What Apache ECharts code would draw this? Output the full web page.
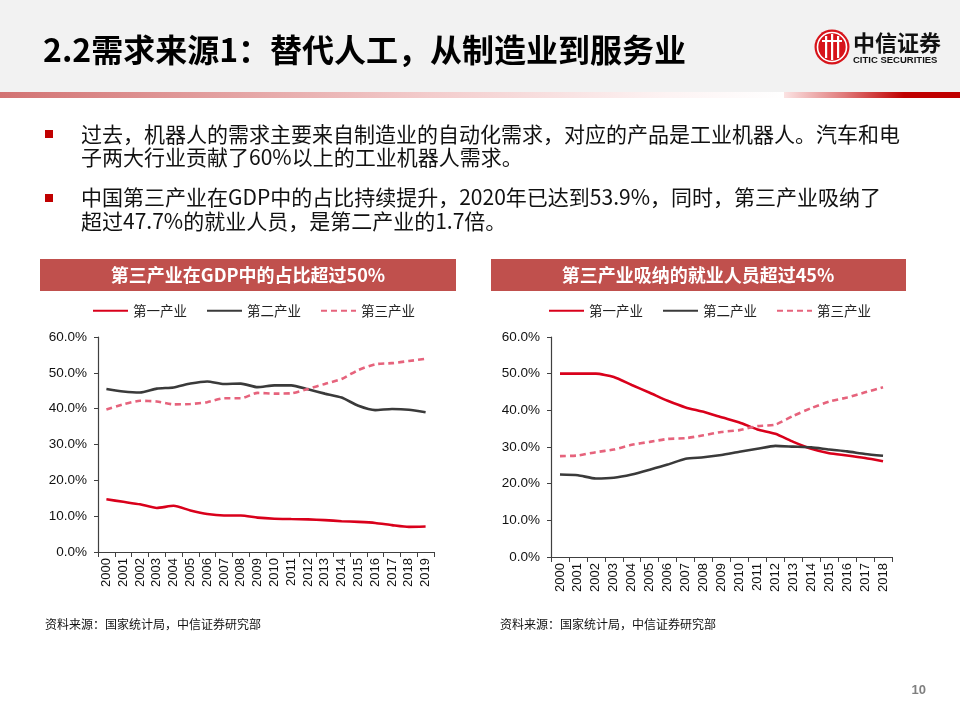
<!DOCTYPE html>
<html>
<head>
<meta charset="utf-8">
<script src="https://cdn.jsdelivr.net/npm/echarts@6/dist/echarts.min.js"></script>
<style>
html,body{margin:0;padding:0;background:#fff;}
#c{width:960px;height:720px;}
</style>
</head>
<body>
<div id="c"></div>
<script>
// ---- data ----
const pageTitle = '2.2需求来源1：替代人工，从制造业到服务业';
const bullet1 = ['过去，机器人的需求主要来自制造业的自动化需求，对应的产品是工业机器人。汽车和电', '子两大行业贡献了60%以上的工业机器人需求。'];
const bullet2 = ['中国第三产业在GDP中的占比持续提升，2020年已达到53.9%，同时，第三产业吸纳了', '超过47.7%的就业人员，是第二产业的1.7倍。'];
const chartTitle1 = '第三产业在GDP中的占比超过50%';
const chartTitle2 = '第三产业吸纳的就业人员超过45%';
const sourceText = '资料来源：国家统计局，中信证券研究部';
const pageNum = '10';
const seriesNames = ['第一产业', '第二产业', '第三产业'];

const years1 = ['2000','2001','2002','2003','2004','2005','2006','2007','2008','2009','2010','2011','2012','2013','2014','2015','2016','2017','2018','2019'];
const gdpPrimary   = [14.7,14.0,13.3,12.3,12.9,11.6,10.6,10.2,10.2,9.6,9.3,9.2,9.1,8.9,8.6,8.4,8.1,7.5,7.0,7.1];
const gdpSecondary = [45.5,44.8,44.5,45.6,45.9,47.0,47.6,46.9,47.0,46.0,46.5,46.5,45.4,44.2,43.1,40.8,39.6,39.9,39.7,39.0];
const gdpTertiary  = [39.8,41.2,42.2,42.0,41.2,41.3,41.8,42.9,42.9,44.4,44.2,44.3,45.5,46.9,48.3,50.8,52.4,52.7,53.3,53.9];

const years2 = ['2000','2001','2002','2003','2004','2005','2006','2007','2008','2009','2010','2011','2012','2013','2014','2015','2016','2017','2018'];
const empPrimary   = [50.0,50.0,50.0,49.1,46.9,44.8,42.6,40.8,39.6,38.1,36.7,34.8,33.6,31.4,29.5,28.3,27.7,27.0,26.1];
const empSecondary = [22.5,22.3,21.4,21.6,22.5,23.8,25.2,26.8,27.2,27.8,28.7,29.5,30.3,30.1,29.9,29.3,28.8,28.1,27.6];
const empTertiary  = [27.5,27.7,28.6,29.3,30.6,31.4,32.2,32.4,33.2,34.1,34.6,35.7,36.1,38.5,40.6,42.4,43.5,44.9,46.3];

const yMin = 0, yMax = 60, yStep = 10;

// ---- styles ----
const CJK = '"Noto Sans CJK SC", "Liberation Sans", sans-serif';
const LAT = '"Liberation Sans", "Noto Sans CJK SC", sans-serif';
const RED = '#d9001b', BLACK = '#3a3a3a', PINK = '#e6637c', BAR = '#c0504d';

const chart = echarts.init(document.getElementById('c'), null, {renderer: 'canvas'});

function axisPair(gridIndex, cats) {
  return {
    x: {
      type: 'category', gridIndex: gridIndex, data: cats, boundaryGap: true,
      axisLine: {lineStyle: {color: '#404040', width: 1.2}},
      axisTick: {show: true, length: 5, inside: false, lineStyle: {color: '#404040'}},
      axisLabel: {rotate: 90, fontSize: 13, color: '#111', fontFamily: LAT, margin: 6, interval: 0}
    },
    y: {
      type: 'value', gridIndex: gridIndex, min: yMin, max: yMax, interval: yStep,
      axisLine: {show: true, lineStyle: {color: '#404040', width: 1.2}},
      axisTick: {show: true, length: 4, lineStyle: {color: '#404040'}},
      splitLine: {show: false},
      axisLabel: {fontSize: 13.5, color: '#111', fontFamily: LAT, margin: 11,
        formatter: v => v.toFixed(1) + '%'}
    }
  };
}
const a1 = axisPair(0, years1), a2 = axisPair(1, years2);

function mk(name, data, idx, color, dashed) {
  return {
    name: name, type: 'line', data: data, xAxisIndex: idx, yAxisIndex: idx,
    symbol: 'none', smooth: 0.2, silent: true,
    lineStyle: {color: color, width: 2.6, type: dashed ? [6, 4] : 'solid'},
    itemStyle: {color: color}
  };
}

const legendBase = {
  data: seriesNames, itemWidth: 35, itemHeight: 12, itemGap: 19,
  itemStyle: {opacity: 0},
  textStyle: {fontSize: 13.5, color: '#222', fontFamily: CJK}, top: 299
};

const graphics = [
  // header background
  {type: 'rect', shape: {x: 0, y: 0, width: 960, height: 92}, style: {fill: '#f2f2f2'}, silent: true},
  {type: 'rect', shape: {x: 0, y: 92, width: 784, height: 6}, silent: true,
    style: {fill: new echarts.graphic.LinearGradient(0, 0, 1, 0, [
      {offset: 0, color: '#d27272'}, {offset: 0.55, color: '#f3cccc'}, {offset: 0.85, color: '#fdf3f3'}, {offset: 1, color: '#ffffff'}])}},
  {type: 'rect', shape: {x: 784, y: 92, width: 120, height: 6}, silent: true,
    style: {fill: new echarts.graphic.LinearGradient(0, 0, 1, 0, [
      {offset: 0, color: '#fbe3e3'}, {offset: 0.5, color: '#e07a7a'}, {offset: 1, color: '#c00000'}])}},
  {type: 'rect', shape: {x: 904, y: 92, width: 56, height: 6}, style: {fill: '#c00000'}, silent: true},
  {type: 'text', x: 43, y: 50, silent: true,
    style: {text: pageTitle, fill: '#000', font: 'bold 32px ' + CJK, textVerticalAlign: 'middle'}},
  // logo
  {type: 'circle', shape: {cx: 832, cy: 47, r: 17.5}, style: {fill: '#d7141a'}, silent: true},
  {type: 'circle', shape: {cx: 832, cy: 47, r: 14.5}, style: {fill: 'none', stroke: '#fff', lineWidth: 1.6}, silent: true},
  {type: 'rect', shape: {x: 825, y: 36, width: 2.2, height: 22}, style: {fill: '#fff'}, silent: true},
  {type: 'rect', shape: {x: 831, y: 34, width: 2.2, height: 26}, style: {fill: '#fff'}, silent: true},
  {type: 'rect', shape: {x: 837, y: 36, width: 2.2, height: 22}, style: {fill: '#fff'}, silent: true},
  {type: 'rect', shape: {x: 822, y: 40, width: 20, height: 2}, style: {fill: '#fff'}, silent: true},
  {type: 'text', x: 853, y: 43, silent: true,
    style: {text: '中信证券', fill: '#111', font: 'bold 22px ' + CJK, textVerticalAlign: 'middle'}},
  {type: 'text', x: 853, y: 60, silent: true,
    style: {text: 'CITIC SECURITIES', fill: '#111', font: 'bold 9.5px ' + LAT, textVerticalAlign: 'middle'}},
  // bullets
  {type: 'rect', shape: {x: 45, y: 130, width: 8, height: 8}, style: {fill: '#c00000'}, silent: true},
  {type: 'rect', shape: {x: 45, y: 194, width: 8, height: 8}, style: {fill: '#c00000'}, silent: true},
  {type: 'text', x: 81, y: 134, silent: true, style: {text: bullet1[0], fill: '#111', font: '21px ' + CJK, textVerticalAlign: 'middle'}},
  {type: 'text', x: 81, y: 157, silent: true, style: {text: bullet1[1], fill: '#111', font: '21px ' + CJK, textVerticalAlign: 'middle'}},
  {type: 'text', x: 81, y: 197, silent: true, style: {text: bullet2[0], fill: '#111', font: '21px ' + CJK, textVerticalAlign: 'middle'}},
  {type: 'text', x: 81, y: 221, silent: true, style: {text: bullet2[1], fill: '#111', font: '21px ' + CJK, textVerticalAlign: 'middle'}},
  // chart title bars
  {type: 'rect', shape: {x: 40, y: 259, width: 416, height: 32}, style: {fill: BAR}, silent: true},
  {type: 'text', x: 248, y: 275, silent: true,
    style: {text: chartTitle1, fill: '#fff', font: 'bold 18px ' + CJK, textAlign: 'center', textVerticalAlign: 'middle'}},
  {type: 'rect', shape: {x: 491, y: 259, width: 415, height: 32}, style: {fill: BAR}, silent: true},
  {type: 'text', x: 698, y: 275, silent: true,
    style: {text: chartTitle2, fill: '#fff', font: 'bold 18px ' + CJK, textAlign: 'center', textVerticalAlign: 'middle'}},
  // sources
  {type: 'text', x: 45, y: 624, silent: true, style: {text: sourceText, fill: '#111', font: '12px ' + CJK, textVerticalAlign: 'middle'}},
  {type: 'text', x: 500, y: 624, silent: true, style: {text: sourceText, fill: '#111', font: '12px ' + CJK, textVerticalAlign: 'middle'}},
  {type: 'text', x: 926, y: 690, silent: true, style: {text: pageNum, fill: '#7f7f7f', font: 'bold 13px ' + LAT, textAlign: 'right', textVerticalAlign: 'middle'}}
];

chart.setOption({
  animation: false,
  backgroundColor: '#fff',
  graphic: graphics,
  legend: [
    Object.assign({}, legendBase, {left: 87}),
    Object.assign({}, legendBase, {left: 543})
  ],
  grid: [
    {left: 98, right: 526, top: 337, bottom: 168, containLabel: false},
    {left: 551, right: 68, top: 337, bottom: 163, containLabel: false}
  ],
  xAxis: [a1.x, a2.x],
  yAxis: [a1.y, a2.y],
  series: [
    mk(seriesNames[0], gdpPrimary, 0, RED, false),
    mk(seriesNames[1], gdpSecondary, 0, BLACK, false),
    mk(seriesNames[2], gdpTertiary, 0, PINK, true),
    mk(seriesNames[0], empPrimary, 1, RED, false),
    mk(seriesNames[1], empSecondary, 1, BLACK, false),
    mk(seriesNames[2], empTertiary, 1, PINK, true)
  ]
});
</script>
</body>
</html>
